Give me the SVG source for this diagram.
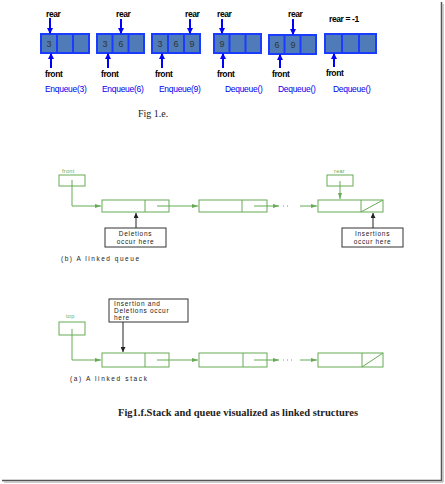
<svg xmlns="http://www.w3.org/2000/svg" width="445" height="484" viewBox="0 0 445 484">
<defs>
<style>
.arr{fill:#4f7cb8;stroke:#1a3cff;stroke-width:2}
.div{stroke:#1a3cff;stroke-width:2}
.num{font-family:"Liberation Sans",Arial,sans-serif;font-size:9px;fill:#333;text-anchor:middle}
.lbl{font-family:"Liberation Sans",Arial,sans-serif;font-size:8.5px;font-weight:bold;fill:#000;letter-spacing:-0.4px}
.op{font-family:"Liberation Sans",Arial,sans-serif;font-size:8.5px;fill:#0000ee;letter-spacing:-0.3px}
.bl{stroke:#0000ff;stroke-width:2;fill:none}
.g{stroke:#66aa55;stroke-width:1;fill:none}
.gnode{stroke:#66aa55;stroke-width:1;fill:#fff}
.gt{font-family:"Liberation Sans",Arial,sans-serif;font-size:5.5px;fill:#66aa55;letter-spacing:0.3px}
.k{stroke:#222;stroke-width:1;fill:none}
.kbox{stroke:#333;stroke-width:1;fill:#fff}
.kt{font-family:"Liberation Sans",Arial,sans-serif;font-size:6.5px;fill:#222;letter-spacing:0.7px}
.sub{font-family:"Liberation Sans",Arial,sans-serif;font-size:6.5px;fill:#222}
.fig{font-family:"Liberation Serif","Times New Roman",serif;font-size:10px;fill:#222}
.cap{font-family:"Liberation Serif","Times New Roman",serif;font-size:10px;font-weight:bold;fill:#222}
</style>
<marker id="ab" markerWidth="6" markerHeight="6" refX="5" refY="3" orient="auto" markerUnits="userSpaceOnUse"><path d="M0,0 L6,3 L0,6 z" fill="#0000ff"/></marker>
<marker id="ag" markerWidth="6" markerHeight="4" refX="6" refY="2" orient="auto" markerUnits="userSpaceOnUse"><path d="M0,0 L6,2 L0,4 z" fill="#66aa55"/></marker>
<marker id="ak" markerWidth="5" markerHeight="5" refX="5" refY="2.5" orient="auto" markerUnits="userSpaceOnUse"><path d="M0,0 L5,2.5 L0,5 z" fill="#222"/></marker>
</defs>
<rect width="445" height="484" fill="#fff"/>
<!-- page border shadow -->
<line x1="441.5" y1="2" x2="441.5" y2="481" stroke="#555" stroke-width="1.5"/>
<line x1="443" y1="4" x2="443" y2="482" stroke="#bbb" stroke-width="1.5"/>
<line x1="2" y1="480.5" x2="442" y2="480.5" stroke="#555" stroke-width="1.5"/>
<line x1="4" y1="482" x2="443" y2="482" stroke="#bbb" stroke-width="1.5"/>

<!-- Fig 1.e arrays -->
<g id="array1">
<rect class="arr" x="41" y="34" width="48" height="19"/>
<line class="div" x1="57" y1="34" x2="57" y2="53"/><line class="div" x1="73" y1="34" x2="73" y2="53"/>
<text class="num" x="49" y="47">3</text>
<text class="lbl" x="46" y="17">rear</text>
<text class="lbl" x="45" y="77">front</text>
<text class="op" x="45" y="92">Enqueue(3)</text>
</g>
<g id="array2">
<rect class="arr" x="97" y="34" width="47" height="19"/>
<line class="div" x1="112.5" y1="34" x2="112.5" y2="53"/><line class="div" x1="128.5" y1="34" x2="128.5" y2="53"/>
<text class="num" x="105" y="47">3</text><text class="num" x="121" y="47">6</text>
<text class="lbl" x="116" y="17">rear</text>
<text class="lbl" x="101" y="77">front</text>
<text class="op" x="102" y="92">Enqueue(6)</text>
</g>
<g id="array3">
<rect class="arr" x="152" y="34" width="48" height="19"/>
<line class="div" x1="168" y1="34" x2="168" y2="53"/><line class="div" x1="184" y1="34" x2="184" y2="53"/>
<text class="num" x="160" y="47">3</text><text class="num" x="176" y="47">6</text><text class="num" x="192" y="47">9</text>
<text class="lbl" x="185" y="17">rear</text>
<text class="lbl" x="155" y="77">front</text>
<text class="op" x="159" y="92">Enqueue(9)</text>
</g>
<g id="array4">
<rect class="arr" x="214" y="34" width="47" height="19"/>
<line class="div" x1="229.5" y1="34" x2="229.5" y2="53"/><line class="div" x1="245.5" y1="34" x2="245.5" y2="53"/>
<text class="num" x="222" y="47">9</text>
<text class="lbl" x="217" y="17">rear</text>
<text class="lbl" x="217" y="77">front</text>
<text class="op" x="225" y="92">Dequeue()</text>
</g>
<g id="array5">
<rect class="arr" x="269" y="35" width="47" height="19"/>
<line class="div" x1="284.5" y1="35" x2="284.5" y2="54"/><line class="div" x1="300.5" y1="35" x2="300.5" y2="54"/>
<text class="num" x="277" y="48">6</text><text class="num" x="293" y="48">9</text>
<text class="lbl" x="288" y="17">rear</text>
<text class="lbl" x="272" y="77">front</text>
<text class="op" x="278" y="92">Dequeue()</text>
</g>
<g id="array6">
<rect class="arr" x="325" y="34" width="51" height="19"/>
<line class="div" x1="342" y1="34" x2="342" y2="53"/><line class="div" x1="359" y1="34" x2="359" y2="53"/>
<text class="lbl" x="329" y="22">rear = -1</text>
<text class="lbl" x="326" y="76">front</text>
<text class="op" x="333" y="92">Dequeue()</text>
</g>
<g id="array-arrows">
<line class="bl" x1="50" y1="18" x2="50" y2="33" marker-end="url(#ab)"/>
<line class="bl" x1="121" y1="19" x2="121" y2="33" marker-end="url(#ab)"/>
<line class="bl" x1="190" y1="19" x2="190" y2="33" marker-end="url(#ab)"/>
<line class="bl" x1="222" y1="19" x2="222" y2="33" marker-end="url(#ab)"/>
<line class="bl" x1="293" y1="19" x2="293" y2="34" marker-end="url(#ab)"/>
<line class="bl" x1="51" y1="68" x2="51" y2="54" marker-end="url(#ab)"/>
<line class="bl" x1="108" y1="68" x2="108" y2="54" marker-end="url(#ab)"/>
<line class="bl" x1="162" y1="68" x2="162" y2="54" marker-end="url(#ab)"/>
<line class="bl" x1="223" y1="68" x2="223" y2="54" marker-end="url(#ab)"/>
<line class="bl" x1="280" y1="68" x2="280" y2="55" marker-end="url(#ab)"/>
<line class="bl" x1="334" y1="67" x2="334" y2="54" marker-end="url(#ab)"/>
</g>
<text class="fig" x="138" y="117">Fig 1.e.</text>

<!-- linked queue -->
<g id="q-front">
<text class="gt" x="62" y="173">front</text>
<rect class="gnode" x="59" y="175" width="26" height="11"/>
</g>
<g id="q-node1"><rect class="gnode" x="102" y="200" width="67" height="12"/><line class="g" x1="145" y1="200" x2="145" y2="212"/></g>
<g id="q-node2"><rect class="gnode" x="199" y="200" width="68" height="12"/><line class="g" x1="242" y1="200" x2="242" y2="212"/></g>
<g id="q-node3"><rect class="gnode" x="318" y="200" width="65" height="12"/><line class="g" x1="361" y1="200" x2="361" y2="212"/><line class="g" x1="361" y1="212" x2="383" y2="200"/></g>
<g id="q-rear">
<text class="gt" x="334" y="173">rear</text>
<rect class="gnode" x="327" y="175" width="26" height="11"/>
</g>
<g id="q-del">
<rect class="kbox" x="105" y="228" width="61" height="19"/>
<text class="kt" x="135.5" y="236" text-anchor="middle">Deletions</text>
<text class="kt" x="135.5" y="244" text-anchor="middle">occur here</text>
</g>
<g id="q-ins">
<rect class="kbox" x="342" y="228" width="61" height="19"/>
<text class="kt" x="372.5" y="236" text-anchor="middle">Insertions</text>
<text class="kt" x="372.5" y="244" text-anchor="middle">occur here</text>
</g>
<text class="sub" x="61" y="261" textLength="78" lengthAdjust="spacing">(b) A linked queue</text>

<!-- linked stack -->
<g id="s-top">
<text class="gt" x="66" y="318">top</text>
<rect class="gnode" x="59" y="322" width="26" height="13"/>
</g>
<g id="s-node1"><rect class="gnode" x="102" y="353" width="67" height="14"/><line class="g" x1="145" y1="353" x2="145" y2="367"/></g>
<g id="s-node2"><rect class="gnode" x="199" y="353" width="68" height="14"/><line class="g" x1="243" y1="353" x2="243" y2="367"/></g>
<g id="s-node3"><rect class="gnode" x="318" y="353" width="65" height="14"/><line class="g" x1="362" y1="353" x2="362" y2="367"/><line class="g" x1="362" y1="367" x2="383" y2="353"/></g>
<g id="s-ins">
<rect class="kbox" x="109" y="299" width="79" height="23"/>
<text class="kt" x="114" y="306">Insertion and</text>
<text class="kt" x="114" y="313">Deletions occur</text>
<text class="kt" x="114" y="320">here</text>
</g>
<text class="sub" x="70" y="381" textLength="77" lengthAdjust="spacing">(a) A linked stack</text>

<g id="connectors">
<polyline class="g" points="72,180 72,206 101,206" marker-end="url(#ag)"/>
<line class="g" x1="157" y1="206" x2="198" y2="206" marker-end="url(#ag)"/>
<line class="g" x1="254" y1="206" x2="279" y2="206" marker-end="url(#ag)"/>
<line class="g" x1="283" y1="206" x2="291" y2="206" stroke-dasharray="1,3"/>
<line class="g" x1="300" y1="206" x2="317" y2="206" marker-end="url(#ag)"/>
<line class="g" x1="340" y1="181" x2="340" y2="199" marker-end="url(#ag)"/>
<line class="k" x1="136" y1="228" x2="136" y2="213" marker-end="url(#ak)"/>
<line class="k" x1="373" y1="228" x2="373" y2="213" marker-end="url(#ak)"/>
<polyline class="g" points="72,329 72,360 101,360" marker-end="url(#ag)"/>
<line class="g" x1="157" y1="360" x2="198" y2="360" marker-end="url(#ag)"/>
<line class="g" x1="254" y1="360" x2="279" y2="360" marker-end="url(#ag)"/>
<line class="g" x1="283" y1="360" x2="292" y2="360" stroke-dasharray="1,3"/>
<line class="g" x1="300" y1="360" x2="317" y2="360" marker-end="url(#ag)"/>
<line class="k" x1="123" y1="322" x2="123" y2="352" marker-end="url(#ak)"/>
</g>

<text class="cap" x="118" y="416" textLength="240" lengthAdjust="spacingAndGlyphs">Fig1.f.Stack and queue visualized as linked structures</text>
</svg>
